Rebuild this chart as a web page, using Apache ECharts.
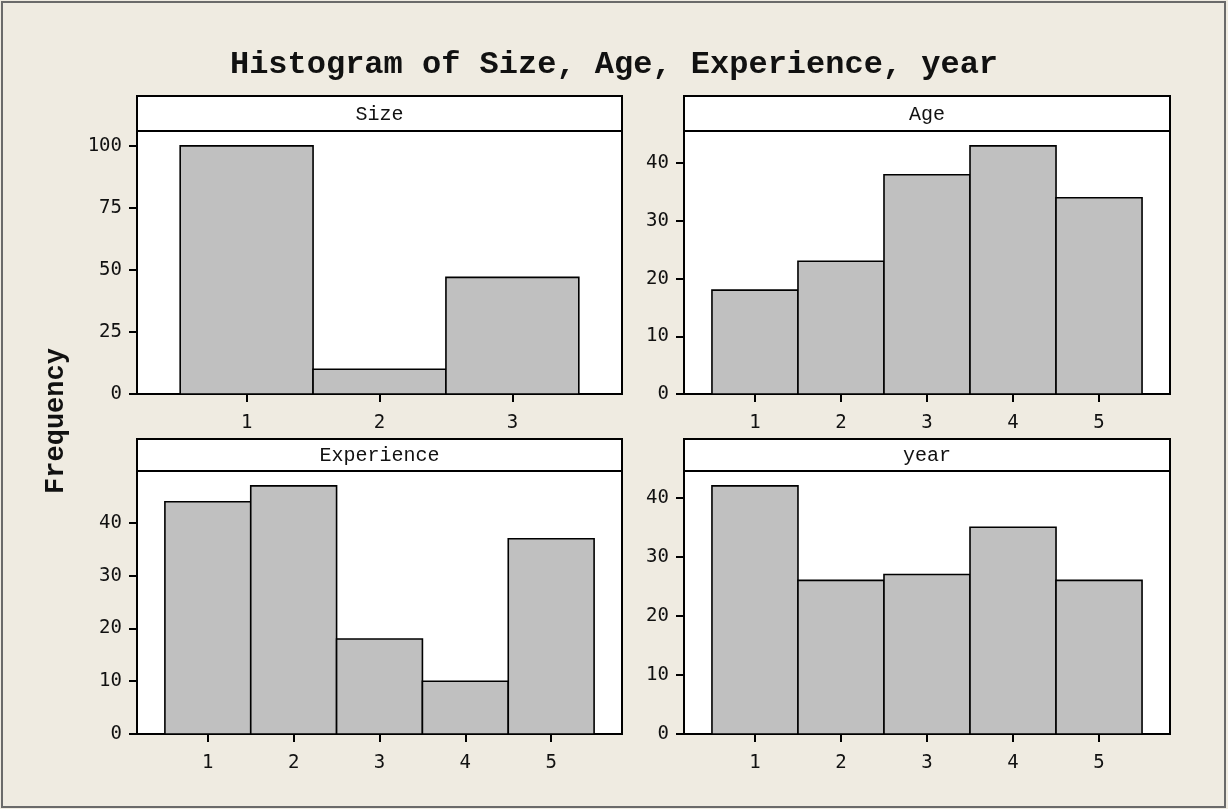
<!DOCTYPE html>
<html>
<head>
<meta charset="utf-8">
<title>Histogram of Size, Age, Experience, year</title>
<script src="https://cdn.jsdelivr.net/npm/echarts@6/dist/echarts.min.js"></script>
<style>
  html, body { margin: 0; padding: 0; background: #efebe1; }
  #chart { width: 1228px; height: 809px; }
</style>
</head>
<body>
<div id="chart"></div>
<script>
// Frequency counts per bin (bins labelled 1..n)
const panelNames = ["Size", "Age", "Experience", "year"];
const sizeCounts = [100, 10, 47];
const ageCounts = [18, 23, 38, 43, 34];
const experienceCounts = [44, 47, 18, 10, 37];
const yearCounts = [42, 26, 27, 35, 26];
const yTickSteps = [25, 10, 10, 10];

const countsList = [sizeCounts, ageCounts, experienceCounts, yearCounts];

// Panel frames: plot area (grid) and the strip header above it
const W = 1228, H = 809;
const panels = [
  { left: 137, right: 622, stripTop: 96,  top: 131, bottom: 394 },
  { left: 684, right: 1170, stripTop: 96, top: 131, bottom: 394 },
  { left: 137, right: 622, stripTop: 439, top: 471, bottom: 734 },
  { left: 684, right: 1170, stripTop: 439, top: 471, bottom: 734 }
];

const monoFont = 'Liberation Mono';
const tickFont = 'DejaVu Sans Mono';
const binPad = 0.325;   // empty space either side of the bars, in bins
const headroom = 1.06;  // y range above tallest bar

const grids = [], xAxes = [], yAxes = [], series = [], graphics = [];

countsList.forEach((counts, i) => {
  const p = panels[i];
  const n = counts.length;
  const bins = counts.map((_, k) => k + 1);

  grids.push({
    left: p.left, top: p.top,
    width: p.right - p.left, height: p.bottom - p.top,
    show: true, backgroundColor: '#ffffff',
    borderColor: '#000000', borderWidth: 2
  });

  xAxes.push({
    type: 'value', gridIndex: i,
    min: 0.5 - binPad, max: n + 0.5 + binPad,
    axisLine: { show: true, onZero: false, lineStyle: { color: '#000', width: 2 } },
    axisTick: { show: true, length: 8, customValues: bins, lineStyle: { color: '#000', width: 2 } },
    axisLabel: { customValues: bins, margin: 20, color: '#111', fontFamily: tickFont, fontSize: 19 },
    splitLine: { show: false }
  });

  yAxes.push({
    type: 'value', gridIndex: i,
    min: 0, max: Math.max(...counts) * headroom,
    interval: yTickSteps[i],
    axisLine: { show: true, lineStyle: { color: '#000', width: 2 } },
    axisTick: { show: true, length: 8, lineStyle: { color: '#000', width: 2 } },
    axisLabel: { margin: 15, color: '#111', fontFamily: tickFont, fontSize: 19, showMaxLabel: false },
    splitLine: { show: false }
  });

  series.push({
    type: 'custom', xAxisIndex: i, yAxisIndex: i,
    data: counts.map((c, k) => [k + 1, c]),
    renderItem: function (params, api) {
      const x = api.value(0), y = api.value(1);
      const p0 = api.coord([x - 0.5, 0]);
      const p1 = api.coord([x + 0.5, y]);
      return {
        type: 'rect',
        shape: { x: p0[0], y: p1[1], width: p1[0] - p0[0], height: p0[1] - p1[1] },
        style: { fill: '#c0c0c0', stroke: '#000000', lineWidth: 1.6 }
      };
    },
    silent: true
  });

  // strip header with panel name
  graphics.push({
    type: 'rect',
    shape: { x: p.left, y: p.stripTop, width: p.right - p.left, height: p.top - p.stripTop },
    style: { fill: '#ffffff', stroke: '#000000', lineWidth: 2 },
    z: 10
  });
  graphics.push({
    type: 'text',
    x: (p.left + p.right) / 2, y: (p.stripTop + p.top) / 2 + 1,
    style: {
      text: panelNames[i], fill: '#111',
      fontFamily: monoFont, fontSize: 20,
      align: 'center', verticalAlign: 'middle'
    },
    z: 11
  });
});

// shared y axis title, reading bottom to top
graphics.push({
  type: 'text',
  x: 56, y: 421,
  rotation: Math.PI / 2,
  style: {
    text: 'Frequency', fill: '#111',
    fontFamily: monoFont, fontWeight: 'bold', fontSize: 27,
    align: 'center', verticalAlign: 'middle'
  },
  z: 11
});

// outer frame
graphics.push({
  type: 'rect',
  shape: { x: 2, y: 2, width: W - 5, height: H - 4 },
  style: { fill: 'none', stroke: '#6a6a6a', lineWidth: 2 },
  z: 0
});

const chart = echarts.init(document.getElementById('chart'), null, { renderer: 'canvas' });
chart.setOption({
  backgroundColor: '#efebe1',
  animation: false,
  title: {
    text: 'Histogram of Size, Age, Experience, year',
    left: 'center', top: 44,
    textStyle: { fontFamily: monoFont, fontWeight: 'bold', fontSize: 32, color: '#111' }
  },
  grid: grids,
  xAxis: xAxes,
  yAxis: yAxes,
  series: series,
  graphic: graphics
});
</script>
</body>
</html>
